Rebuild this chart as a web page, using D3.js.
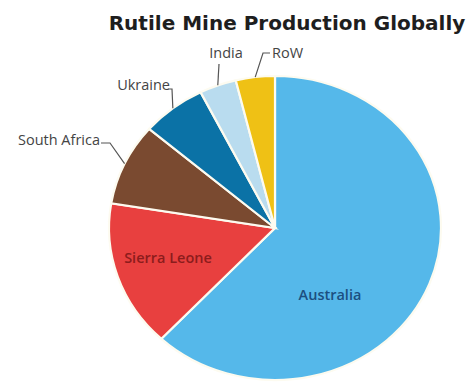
<!DOCTYPE html>
<html>
<head>
<meta charset="utf-8">
<script src="https://cdn.jsdelivr.net/npm/d3@7"></script>
<style>
  body { margin: 0; background: #fff; }
  svg { display: block; }
</style>
</head>
<body>
<div id="chart"></div>
<script>
// chart data
const countries = ["Australia", "Sierra Leone", "South Africa", "Ukraine", "India", "RoW"];
const shares = [62.0, 15.6, 8.7, 6.3, 3.6, 3.8];
const colors = ["#55b8ea", "#e8403f", "#7a4a30", "#0b72a6", "#b9dcef", "#efc115"];

const width = 469, height = 382;
const cx = 275, cy = 228;
const ry = 152, rx = 166;

const svg = d3.select("#chart").append("svg")
    .attr("width", width)
    .attr("height", height);

// title
svg.append("text")
    .attr("x", 287)
    .attr("y", 30)
    .attr("text-anchor", "middle")
    .attr("font-family", "DejaVu Sans, Verdana, sans-serif")
    .attr("font-weight", "bold")
    .attr("font-size", 20)
    .attr("fill", "#1e1e1e")
    .text("Rutile Mine Production Globally");

const data = countries.map((c, i) => ({ name: c, value: shares[i], color: colors[i] }));

const pie = d3.pie()
    .sort(null)
    .value(d => d.value);

const arcs = pie(data);

const arc = d3.arc()
    .innerRadius(0)
    .outerRadius(ry);

// the original pie is a bit wider than tall
const g = svg.append("g")
    .attr("transform", `translate(${cx},${cy}) scale(${rx / ry},1)`);

g.selectAll("path")
    .data(arcs)
    .join("path")
    .attr("d", arc)
    .attr("fill", d => d.data.color)
    .attr("stroke", "#fdfbf0")
    .attr("stroke-width", 2.2)
    .attr("vector-effect", "non-scaling-stroke");

// point on the rim at the slice's middle angle
function rimPoint(d, k) {
    const a = (d.startAngle + d.endAngle) / 2;
    return [cx + Math.sin(a) * rx * k, cy - Math.cos(a) * ry * k];
}

// inside labels
const inside = {
    "Australia": { x: 330, y: 300, fill: "#1c4f80" },
    "Sierra Leone": { x: 168, y: 263, fill: "#8c1c1c" }
};

// outside labels: text position + elbow of the leader line
const outside = {
    "South Africa": { x: 100, y: 145, anchor: "end", elbow: [[101, 143], [110, 143]] },
    "Ukraine": { x: 170, y: 90, anchor: "end", elbow: [[168, 89], [172, 89]] },
    "India": { x: 226, y: 58, anchor: "middle", elbow: [[219, 64]] },
    "RoW": { x: 272, y: 58, anchor: "start", elbow: [[270, 53], [263, 53]] }
};

const labelFont = "Open Sans, Noto Sans, sans-serif";

arcs.forEach(d => {
    const name = d.data.name;
    if (inside[name]) {
        const l = inside[name];
        svg.append("text")
            .attr("x", l.x)
            .attr("y", l.y)
            .attr("text-anchor", "middle")
            .attr("font-family", labelFont)
            .attr("font-weight", 600)
            .attr("font-size", 14.5)
            .attr("fill", l.fill)
            .text(name);
    } else if (outside[name]) {
        const l = outside[name];
        const pts = l.elbow.concat([rimPoint(d, 1.0)]);
        svg.append("path")
            .attr("d", d3.line()(pts))
            .attr("fill", "none")
            .attr("stroke", "#555")
            .attr("stroke-width", 1.2);
        svg.append("text")
            .attr("x", l.x)
            .attr("y", l.y)
            .attr("text-anchor", l.anchor)
            .attr("font-family", labelFont)
            .attr("font-size", 14.5)
            .attr("fill", "#444")
            .text(name);
    }
});
</script>
</body>
</html>
